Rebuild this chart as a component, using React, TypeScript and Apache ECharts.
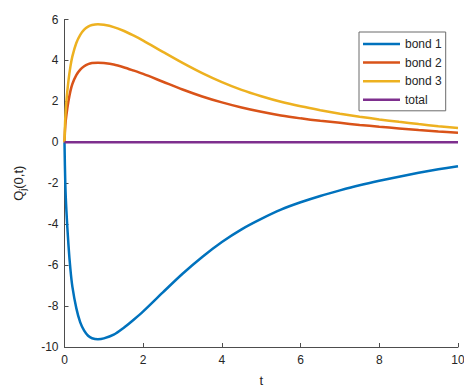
import React, { useEffect, useRef } from "react";
import * as echarts from "echarts";

const tValues = [0, 0.02, 0.05, 0.1, 0.15, 0.2, 0.3, 0.4, 0.5, 0.6, 0.7, 0.85, 1.0, 1.25, 1.5, 1.75, 2.0, 2.5, 3.0, 3.5, 4.0, 4.5, 5.0, 5.5, 6.0, 6.5, 7.0, 7.5, 8.0, 8.5, 9.0, 9.5, 10];
const bond1 = [0, -2.0, -3.4, -5.0, -6.2, -7.05, -8.1, -8.8, -9.2, -9.45, -9.57, -9.62, -9.58, -9.4, -9.07, -8.68, -8.26, -7.33, -6.42, -5.6, -4.87, -4.25, -3.74, -3.29, -2.93, -2.62, -2.35, -2.1, -1.88, -1.68, -1.49, -1.32, -1.17];
const bond2 = [0, 0.8, 1.35, 2.0, 2.5, 2.85, 3.28, 3.55, 3.72, 3.82, 3.87, 3.89, 3.87, 3.8, 3.67, 3.51, 3.34, 2.96, 2.58, 2.24, 1.95, 1.7, 1.49, 1.31, 1.17, 1.05, 0.95, 0.85, 0.76, 0.68, 0.6, 0.53, 0.47];
const bond3 = [0, 1.2, 2.05, 3.0, 3.7, 4.2, 4.85, 5.25, 5.5, 5.65, 5.73, 5.77, 5.74, 5.63, 5.45, 5.22, 4.97, 4.42, 3.88, 3.38, 2.94, 2.56, 2.25, 1.98, 1.76, 1.57, 1.4, 1.25, 1.12, 1.0, 0.89, 0.79, 0.7];
const total = tValues.map(() => 0);

const seriesNames = ["bond 1", "bond 2", "bond 3", "total"];
const seriesColors = ["#0072BD", "#D95319", "#EDB120", "#7E2F8E"];
const seriesData = [bond1, bond2, bond3, total];

const xTicks = { min: 0, max: 10, interval: 2 };
const yTicks = { min: -10, max: 6, interval: 2 };

export default function App() {
  const ref = useRef<HTMLDivElement>(null);
  useEffect(() => {
    if (!ref.current) return;
    const chart = echarts.init(ref.current, null, { renderer: "svg" });
    const font = "Liberation Sans, Arial, Helvetica, sans-serif";
    const axisColor = "#4d4d4d";
    chart.setOption({
      animation: false,
      backgroundColor: "#ffffff",
      textStyle: { fontFamily: font },
      grid: { left: 64.5, right: 6, top: 19.5, bottom: 42, containLabel: false, outerBoundsMode: "none" },
      legend: {
        orient: "vertical",
        left: 359,
        top: 32,
        data: seriesNames,
        icon: "rect",
        itemWidth: 37,
        itemHeight: 2.5,
        itemGap: 4.6,
        padding: [5, 4, 4, 4],
        borderColor: "#6b6b6b",
        borderWidth: 1,
        backgroundColor: "#ffffff",
        textStyle: { fontFamily: font, fontSize: 12, color: "#262626", lineHeight: 14 },
      },
      xAxis: {
        type: "value",
        min: xTicks.min,
        max: xTicks.max,
        interval: xTicks.interval,
        name: "t",
        nameLocation: "middle",
        nameGap: 27,
        nameTextStyle: { fontFamily: font, fontSize: 13, color: "#262626" },
        axisLine: { onZero: false, lineStyle: { color: axisColor, width: 1 } },
        axisTick: { inside: true, length: 4, lineStyle: { color: axisColor } },
        axisLabel: { color: "#262626", fontSize: 12, margin: 7, fontFamily: font },
        splitLine: { show: false },
      },
      yAxis: {
        type: "value",
        min: yTicks.min,
        max: yTicks.max,
        interval: yTicks.interval,
        name: "{q|Q}{s|j}{q|(0,t)}",
        nameLocation: "middle",
        nameRotate: 90,
        nameGap: 37,
        nameTextStyle: {
          fontFamily: font,
          color: "#262626",
          rich: {
            q: { fontSize: 13, fontFamily: font, color: "#262626", lineHeight: 18 },
            s: { fontSize: 9, fontFamily: font, color: "#262626", lineHeight: 18, padding: [9, 0, 0, 0] },
          },
        },
        axisLine: { show: true, onZero: false, lineStyle: { color: axisColor, width: 1 } },
        axisTick: { show: true, inside: true, length: 4, lineStyle: { color: axisColor } },
        axisLabel: { color: "#262626", fontSize: 12, margin: 6, fontFamily: font },
        splitLine: { show: false },
      },
      series: seriesNames.map((name, i) => ({
        name,
        type: "line",
        data: tValues.map((t, k) => [t, seriesData[i][k]]),
        showSymbol: false,
        symbol: "none",
        smooth: 0.3,
        lineStyle: { color: seriesColors[i], width: 2.5 },
        itemStyle: { color: seriesColors[i] },
        z: i === 3 ? 5 : 3,
      })),
    });
    return () => chart.dispose();
  }, []);
  return <div ref={ref} style={{ position: "fixed", left: 0, top: 0, width: 464, height: 389 }} />;
}
